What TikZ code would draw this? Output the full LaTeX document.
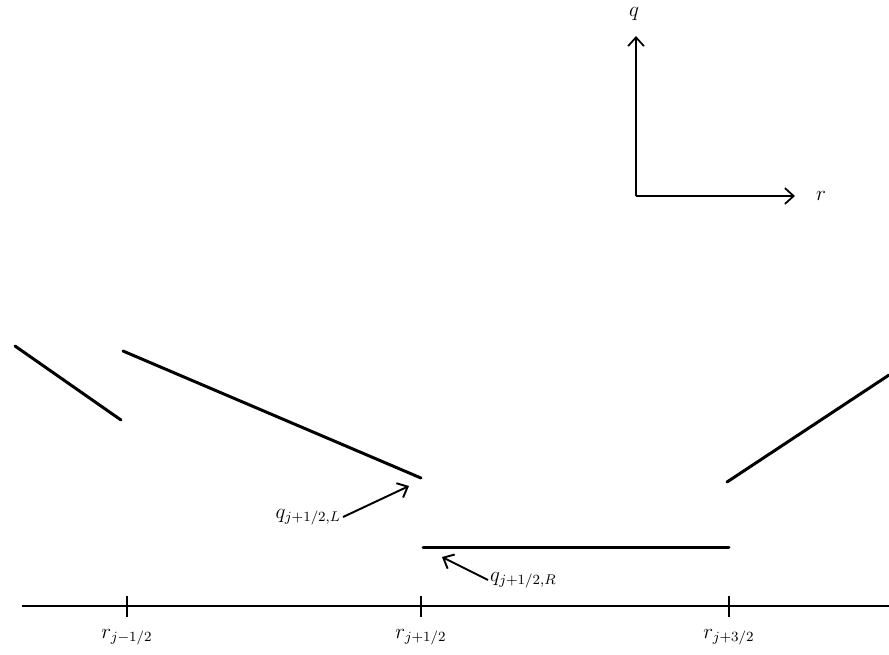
\documentclass[tikz,border=0pt]{standalone}
\usepackage{amsmath}
\usepackage{tikz}
\usetikzlibrary{arrows.meta}

\begin{document}
\begin{tikzpicture}[x=0.02cm, y=-0.02cm,
		seg/.style={line width=1.7pt, line cap=round},
		thin arrow/.style={-{Straight Barb[length=5pt,width=9pt]}, line width=1.1pt},
		lbl/.style={font=\large, inner sep=1pt}]
				\useasboundingbox (0,0) rectangle (889,654);
				% axis with ticks
				\coordinate (axl) at (22,606);
				\coordinate (axr) at (889,606);
				\draw[line width=1.5pt] (axl) -- (axr);
				\foreach \px/\nm/\txt in {127/tm/{j-1/2}, 421/tc/{j+1/2}, 729/tp/{j+3/2}} {
					\draw[line width=1.3pt] (\px,596) -- (\px,617);
					\node (\nm) [lbl] at (\px,637) {$r_{\txt}$};
				}
				
				% reconstructed pieces
				\coordinate (a1) at (15,346);
				\coordinate (a2) at (121,420);
				\coordinate (b1) at (123,351);
				\coordinate (b2) at (421,478);
				\coordinate (c1) at (423,547);
				\coordinate (c2) at (729,547);
				\coordinate (d1) at (727,482);
				\coordinate (d2) at (889,375);
				\draw[seg] (a1) -- (a2);
				\draw[seg] (b1) -- (b2);
				\draw[seg] (c1) -- (c2);
				\draw[seg] (d1) -- (d2);
				
				% labels
				\node (qL) [lbl, anchor=east] at (343,517) {$q_{j+1/2,L}$};
				\node (qR) [lbl, anchor=west] at (488,580) {$q_{j+1/2,R}$};
				\coordinate (qLtip) at (409,486);
				\coordinate (qRtip) at (442,557);
				
				% Arrows
				\draw[thin arrow] (qL.east) -- (qLtip);
				\draw[thin arrow] (qR.west) -- (qRtip);
				
				% coordinate axes
				\coordinate (org) at (636,196);
				\node (qax) [lbl] at (634,14) {$q$};
				\node (rax) [lbl] at (821,196) {$r$};
				\draw[thin arrow, line width=1pt] (org) -- (636,36);
				\draw[thin arrow, line width=1pt] (org) -- (795,196);
			\end{tikzpicture}
\end{document}
